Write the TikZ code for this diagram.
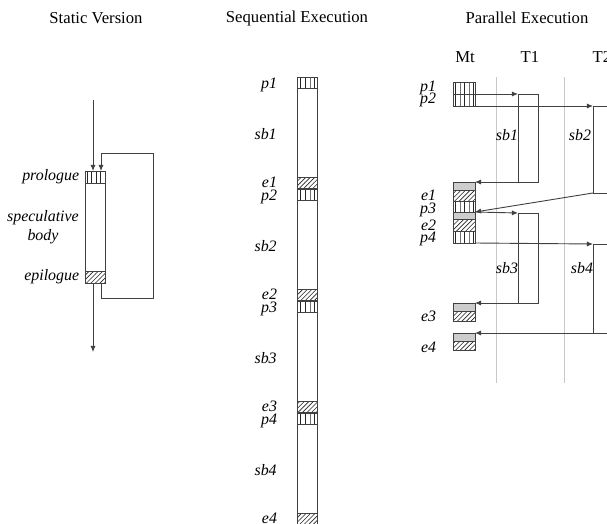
\documentclass[tikz,border=0pt]{standalone}
\usepackage{fontspec}
\setmainfont{Liberation Serif}
\usetikzlibrary{
    arrows.meta,
    positioning,
    patterns
}
\definecolor{lineGray}{RGB}{65,65,65}
\definecolor{sepGray}{RGB}{200,200,200}
\definecolor{waitGray}{RGB}{205,205,205}
\tikzset{
  title/.style = {font=\fontsize{11}{13}\selectfont, inner sep=0pt},
  lbl/.style   = {font=\fontsize{10.5}{12.5}\selectfont\itshape, inner sep=0pt},
  cell/.style  = {draw=lineGray, minimum width=20*0.66pt,
                  minimum height=11*0.66pt, inner sep=0pt, outer sep=0pt},
  mcell/.style = {cell, minimum width=22*0.66pt},
  pro/.style   = {pattern=vertical lines, pattern color=black!85},
  epi/.style   = {pattern=north east lines, pattern color=black!85},
  wait/.style  = {fill=waitGray, minimum height=8*0.66pt},
  line/.style  = {draw=lineGray, line width=0.6pt},
  arr/.style   = {line, -{Latex[length=4pt, width=3.4pt]}},
  sep/.style   = {draw=sepGray, line width=0.5pt}
}

\begin{document}
\begin{tikzpicture}[x=0.66pt, y=-0.66pt]
\useasboundingbox (0,0) rectangle (607,524);

% static version
\node[title] (tstat) at (96,18) {Static Version};
\node[cell, pro, minimum height=12*0.66pt] (spro) at (95.5,177) {};
\node[cell, epi, minimum height=12*0.66pt] (sepi) at (95.5,277) {};
\draw[line] (spro.south west) rectangle (sepi.north east);
\coordinate (sin) at (93,100);
\coordinate (sout) at (93,352);
\coordinate (lpb) at (101,298);
\coordinate (lpt) at (153,153);
\draw[arr] (sin) -- (sin |- spro.north);
\draw[arr] (sepi.south -| sout) -- (sout);
\draw[arr] (sepi.south -| lpb) -- (lpb) -| (lpt) -| (spro.north -| lpb);
\node[lbl, left=4pt of spro] (lpro) {prologue};
\node[lbl, align=center] (lbody) at (43,227) {speculative\\body};
\node[lbl, left=4pt of sepi] (lepi) {epilogue};

% sequential execution
\node[title] (tseq) at (297,18) {Sequential Execution};
\foreach \k in {1,...,4}{
  \pgfmathsetmacro{\yp}{82.5+112*(\k-1)}
  \pgfmathsetmacro{\ye}{182.5+112*(\k-1)}
  \pgfmathsetmacro{\ys}{134+112*(\k-1)}
  \node[cell, pro] (sp\k) at (307,\yp) {};
  \node[cell, epi] (se\k) at (307,\ye) {};
  \node[lbl, left=13pt of sp\k, yshift=-1.8pt] (lsp\k) {p\k};
  \node[lbl, left=13pt of se\k] (lse\k) {e\k};
  \node[lbl, anchor=east] (lsb\k) at (277,\ys) {sb\k};
}
\draw[line] (sp1.north west) rectangle (se4.south east);

% parallel execution
\node[title] (tpar) at (527,18) {Parallel Execution};
\node[title] (hmt) at (465,57) {Mt};
\node[title] (ht1) at (530,57) {T1};
\node[title] (ht2) at (602,57) {T2};
\foreach \x in {496,564}
  \draw[sep] (\x,77) -- (\x,383);

% main thread
\node[mcell, pro, minimum height=12*0.66pt] (mp1) at (464,88) {};
\node[mcell, pro, minimum height=12*0.66pt, below=0pt of mp1] (mp2) {};
\node[mcell, wait] (mg1) at (464,186) {};
\node[mcell, epi, below=0pt of mg1] (me1) {};
\node[mcell, pro, below=0pt of me1] (mp3) {};
\node[mcell, wait, minimum height=7*0.66pt, below=0pt of mp3] (mg2) {};
\node[mcell, epi, minimum height=12*0.66pt, below=0pt of mg2] (me2) {};
\node[mcell, pro, minimum height=12*0.66pt, below=0pt of me2] (mp4) {};
\node[mcell, wait] (mg3) at (464,307) {};
\node[mcell, epi, minimum height=10*0.66pt, below=0pt of mg3] (me3) {};
\node[mcell, wait] (mg4) at (464,337) {};
\node[mcell, epi, minimum height=9*0.66pt, below=0pt of mg4] (me4) {};
\foreach \c/\t/\s in {mp1/p1/0, mp2/p2/0, me1/e1/0, mp3/p3/-2,
                      me2/e2/0, mp4/p4/-1.5, me3/e3/0, me4/e4/-1.5}
  \node[lbl, left=11pt of \c, yshift=\s pt] (l\c) {\t};

% speculative bodies on the threads
\coordinate (b1t) at (518,94);  \coordinate (b1b) at (538,182);
\coordinate (b2t) at (593,106); \coordinate (b2b) at (613,193);
\coordinate (b3t) at (518,213); \coordinate (b3b) at (538,303);
\coordinate (b4t) at (593,244); \coordinate (b4b) at (613,333);
\foreach \i in {1,...,4}
  \draw[line] (b\i t) rectangle (b\i b);
\draw[arr] (mp1.south east) -- (b1t);
\draw[arr] (b1t |- b1b) -- (mg1.north east);
\draw[arr] (mp2.south east) -- (b2t);
\draw[arr] (b2t |- b2b) -- (mg2.north east);
\draw[arr] (mp3.south east) -- (b3t);
\draw[arr] (b3t |- b3b) -- (mg3.north east);
\draw[arr] (mp4.south east) -- (b4t);
\draw[arr] (b4t |- b4b) -- (mg4.north east);
\node[lbl] (lsb1) at (507,135) {sb1};
\node[lbl] (lsb2) at (580,135) {sb2};
\node[lbl] (lsb3) at (507,268) {sb3};
\node[lbl] (lsb4) at (582,268) {sb4};
\end{tikzpicture}
\end{document}
